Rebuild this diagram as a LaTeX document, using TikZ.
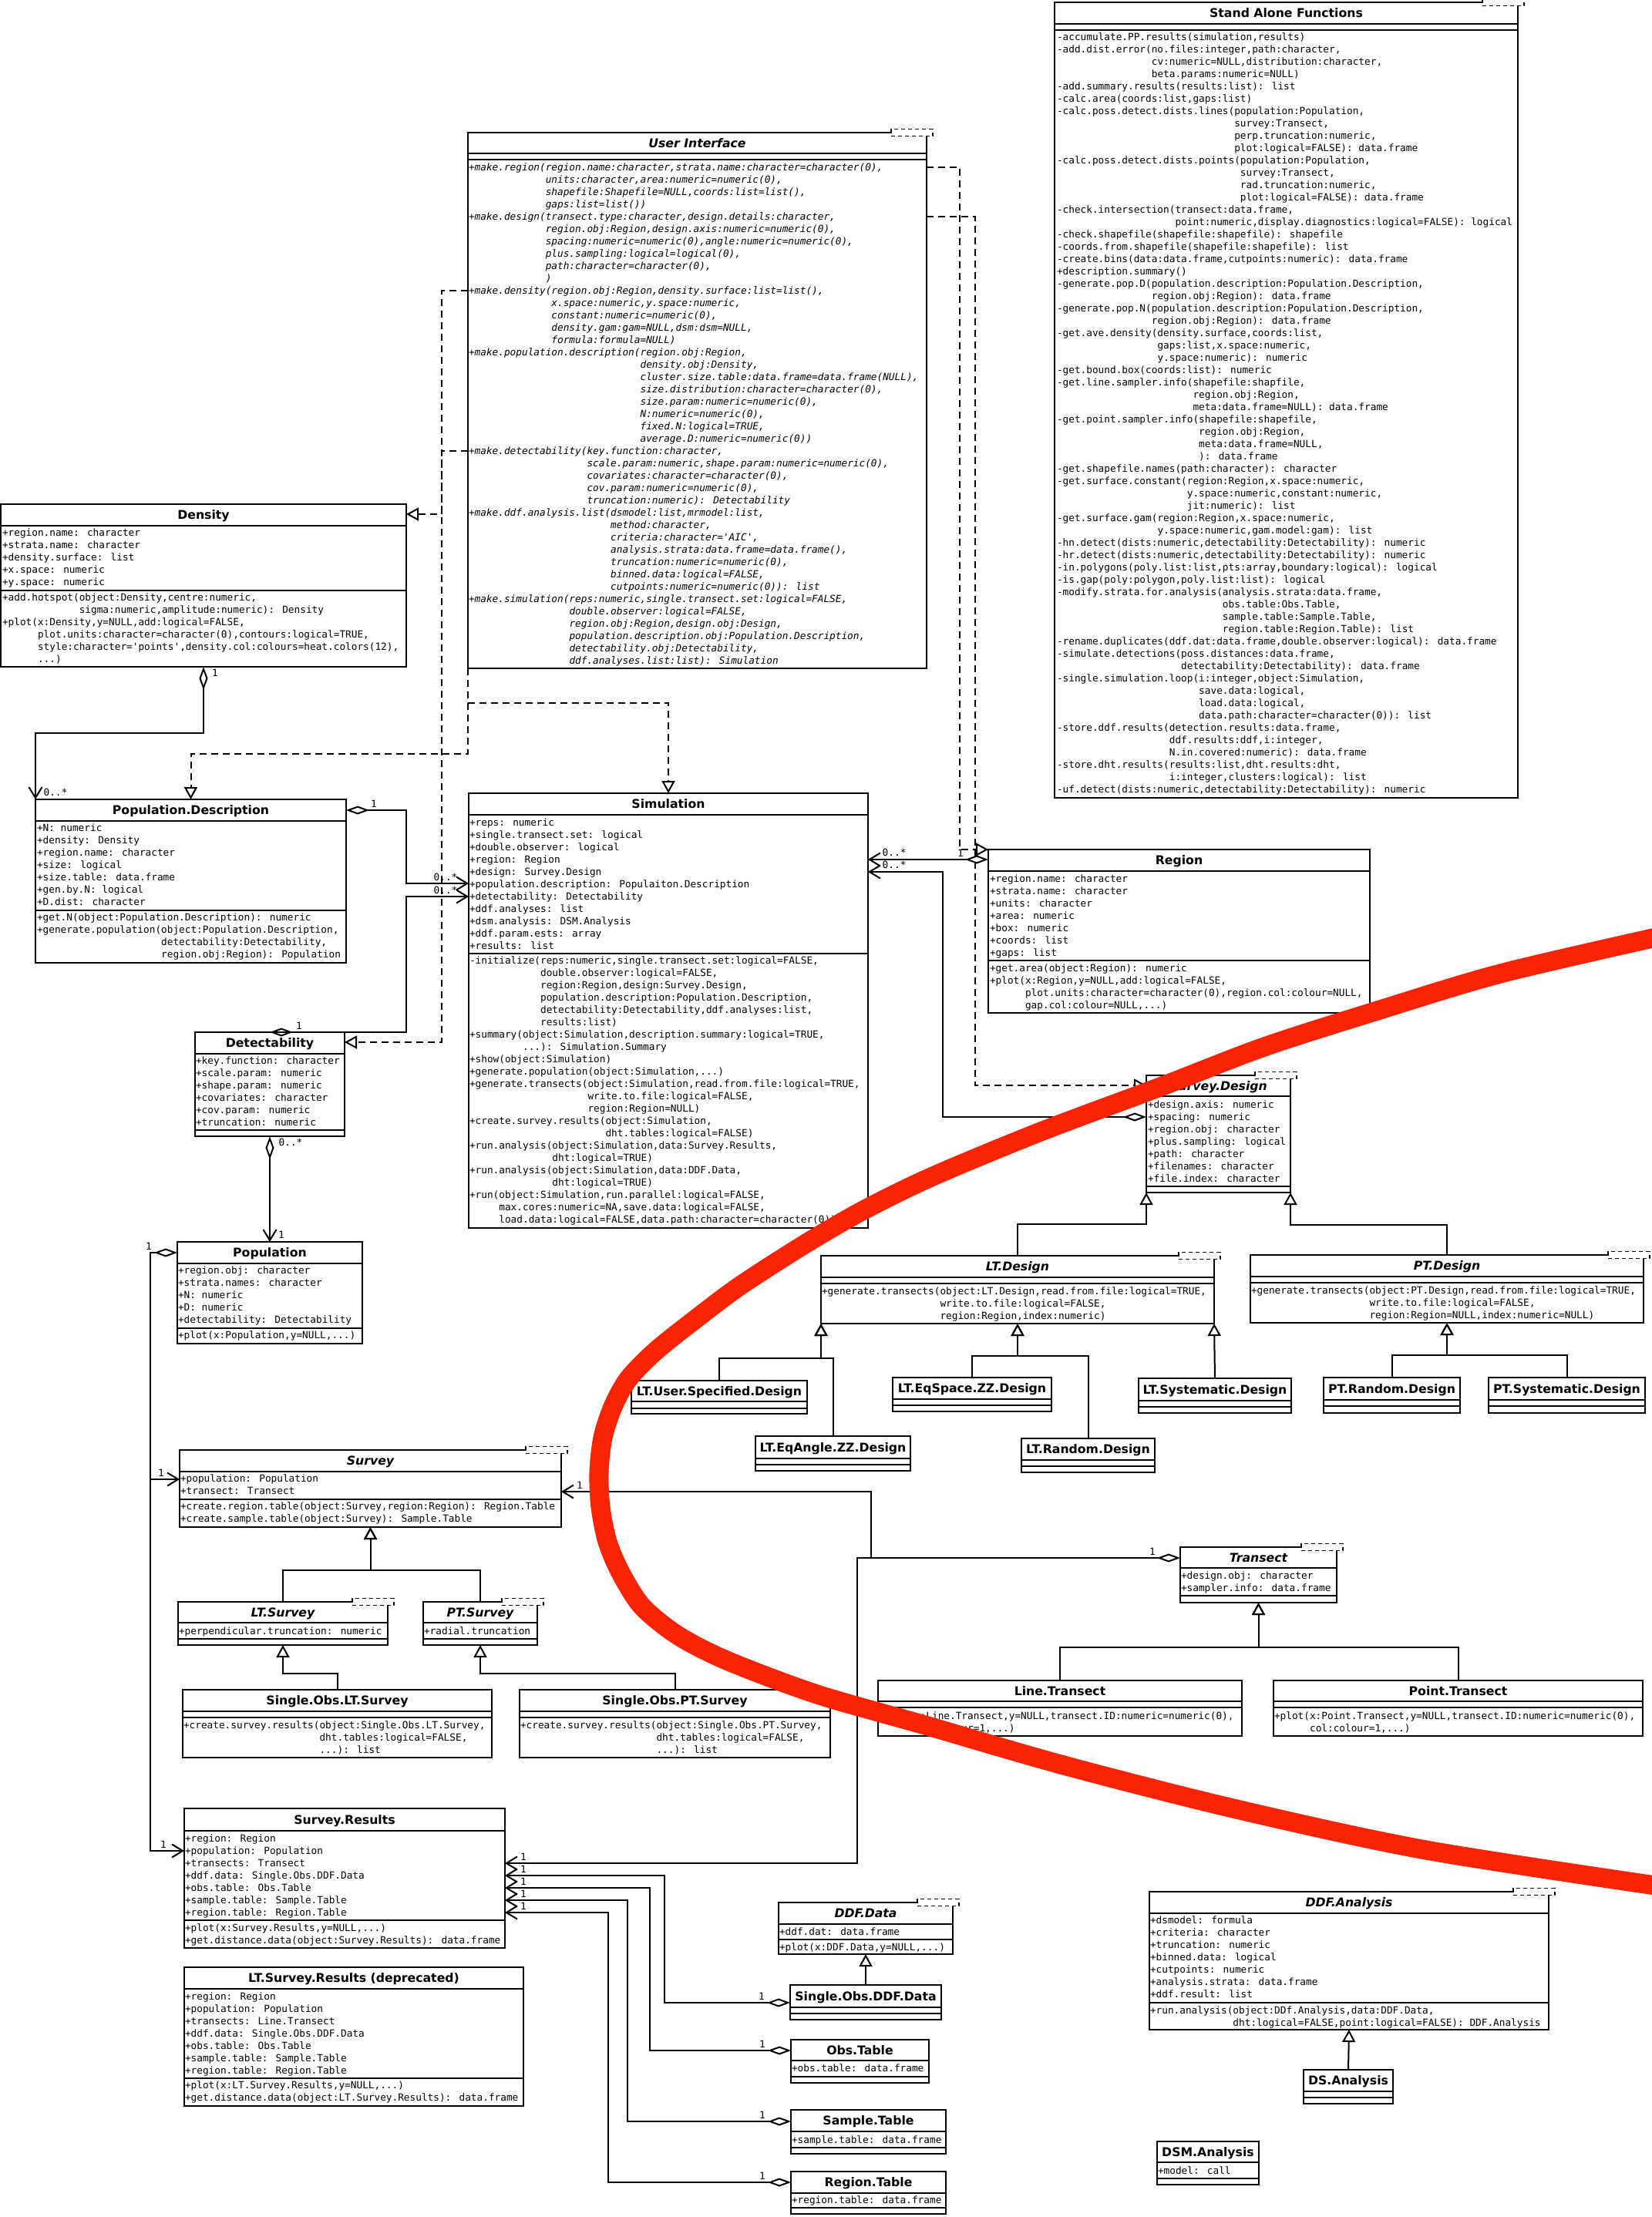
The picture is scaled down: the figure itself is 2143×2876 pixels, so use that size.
\documentclass[tikz,border=0pt]{standalone}
\usepackage{fontspec}
\usetikzlibrary{arrows.meta}
\newfontfamily\monof{DejaVu Sans Mono}[ItalicFont={DejaVu Sans Mono Oblique}]
\newfontfamily\sansf{DejaVu Sans}[BoldFont={DejaVu Sans Bold},BoldItalicFont={DejaVu Sans Bold Oblique}]
\newcommand\mfont{\monof\fontsize{12.75pt}{16pt}\selectfont}
\newcommand\tfont{\sansf\bfseries\fontsize{15.7pt}{18pt}\selectfont}
\newcommand\umlind[1]{\hspace*{#1\fontcharwd\font`0}}
\definecolor{redc}{RGB}{250,35,5}
\tikzset{
  umldia/.tip={Diamond[open,length=30pt,width=11pt]},
  umlbarb/.tip={Straight Barb[length=14pt,width=17pt]},
  umltri/.tip={Triangle[open,length=16pt,width=17pt]},
  clsbox/.style={draw,line width=2pt,inner sep=0pt,outer sep=0pt,rectangle,fill=white},
  sepl/.style={line width=2pt},
  ttlst/.style={anchor=base,inner sep=0pt,font=\tfont},
  tblk/.style={anchor=north west,inner sep=0pt,outer sep=0pt,align=left,font=\mfont},
  lbl/.style={inner sep=0pt,font=\mfont},
  tplst/.style={draw,line width=1.8pt,dash pattern=on 5pt off 4pt,fill=white,minimum width=54pt,minimum height=9pt,inner sep=0pt},
  agg/.style={line width=2pt,arrows={umldia-umlbarb}},
  assoc/.style={line width=2pt,arrows={-umlbarb}},
  real/.style={line width=2pt,dash pattern=on 9pt off 6pt,arrows={-umltri}},
  gen/.style={line width=2pt,arrows={-umltri}},
  redline/.style={line width=25pt,color=redc},
}
\newcommand\umlcls[8]{%
  \node[clsbox,minimum width={(#4-#2)*1pt},minimum height={(#5-#3)*1pt}] (#1) at ({(#2+#4)/2},{(#3+#5)/2}) {};
  \draw[sepl] (#1.west |- 0,#6) -- (#1.east |- 0,#6);
  \draw[sepl] (#1.west |- 0,#7) -- (#1.east |- 0,#7);
  \node[ttlst] (#1-t) at ({(#2+#4)/2},{(#3+#6)/2+5.5}) {#8};
}
\newcommand\umltxt[5][]{\node[tblk,#1] (#2) at (#3,{#4-8}) {\rule{0pt}{12pt}#5};}
\newcommand\umltpl[2]{\node[tplst] (#1) at ([xshift=-19pt]#2.north east) {};}
\begin{document}
\begin{tikzpicture}[x=1pt,y=-1pt]
\useasboundingbox (0,0) rectangle (2143,2876);
\fill[white] (0,0) rectangle (2143,2876);

% ---------------- Stand Alone Functions
\umlcls{sa}{1368}{3}{1969}{1035}{31}{39}{Stand Alone Functions}
\umltxt{sa-m}{1371}{48}{-accumulate.PP.results(simulation,results)\\
-add.dist.error(no.files:integer,path:character,\\
\umlind{16}cv:numeric=NULL,distribution:character,\\
\umlind{16}beta.params:numeric=NULL)\\
-add.summary.results(results:list): list\\
-calc.area(coords:list,gaps:list)\\
-calc.poss.detect.dists.lines(population:Population,\\
\umlind{30}survey:Transect,\\
\umlind{30}perp.truncation:numeric,\\
\umlind{30}plot:logical=FALSE): data.frame\\
-calc.poss.detect.dists.points(population:Population,\\
\umlind{31}survey:Transect,\\
\umlind{31}rad.truncation:numeric,\\
\umlind{31}plot:logical=FALSE): data.frame\\
-check.intersection(transect:data.frame,\\
\umlind{20}point:numeric,display.diagnostics:logical=FALSE): logical\\
-check.shapefile(shapefile:shapefile): shapefile\\
-coords.from.shapefile(shapefile:shapefile): list\\
-create.bins(data:data.frame,cutpoints:numeric): data.frame\\
+description.summary()\\
-generate.pop.D(population.description:Population.Description,\\
\umlind{16}region.obj:Region): data.frame\\
-generate.pop.N(population.description:Population.Description,\\
\umlind{16}region.obj:Region): data.frame\\
-get.ave.density(density.surface,coords:list,\\
\umlind{17}gaps:list,x.space:numeric,\\
\umlind{17}y.space:numeric): numeric\\
-get.bound.box(coords:list): numeric\\
-get.line.sampler.info(shapefile:shapfile,\\
\umlind{23}region.obj:Region,\\
\umlind{23}meta:data.frame=NULL): data.frame\\
-get.point.sampler.info(shapefile:shapefile,\\
\umlind{24}region.obj:Region,\\
\umlind{24}meta:data.frame=NULL,\\
\umlind{24}): data.frame\\
-get.shapefile.names(path:character): character\\
-get.surface.constant(region:Region,x.space:numeric,\\
\umlind{22}y.space:numeric,constant:numeric,\\
\umlind{22}jit:numeric): list\\
-get.surface.gam(region:Region,x.space:numeric,\\
\umlind{17}y.space:numeric,gam.model:gam): list\\
-hn.detect(dists:numeric,detectability:Detectability): numeric\\
-hr.detect(dists:numeric,detectability:Detectability): numeric\\
-in.polygons(poly.list:list,pts:array,boundary:logical): logical\\
-is.gap(poly:polygon,poly.list:list): logical\\
-modify.strata.for.analysis(analysis.strata:data.frame,\\
\umlind{28}obs.table:Obs.Table,\\
\umlind{28}sample.table:Sample.Table,\\
\umlind{28}region.table:Region.Table): list\\
-rename.duplicates(ddf.dat:data.frame,double.observer:logical): data.frame\\
-simulate.detections(poss.distances:data.frame,\\
\umlind{21}detectability:Detectability): data.frame\\
-single.simulation.loop(i:integer,object:Simulation,\\
\umlind{24}save.data:logical,\\
\umlind{24}load.data:logical,\\
\umlind{24}data.path:character=character(0)): list\\
-store.ddf.results(detection.results:data.frame,\\
\umlind{19}ddf.results:ddf,i:integer,\\
\umlind{19}N.in.covered:numeric): data.frame\\
-store.dht.results(results:list,dht.results:dht,\\
\umlind{19}i:integer,clusters:logical): list\\
-uf.detect(dists:numeric,detectability:Detectability): numeric}

% ---------------- User Interface
\umlcls{ui}{607}{172}{1202}{867}{199}{207}{\itshape User Interface}
\umltxt[font=\mfont\itshape]{ui-m}{608}{217}{+make.region(region.name:character,strata.name:character=character(0),\\
\umlind{13}units:character,area:numeric=numeric(0),\\
\umlind{13}shapefile:Shapefile=NULL,coords:list=list(),\\
\umlind{13}gaps:list=list())\\
+make.design(transect.type:character,design.details:character,\\
\umlind{13}region.obj:Region,design.axis:numeric=numeric(0),\\
\umlind{13}spacing:numeric=numeric(0),angle:numeric=numeric(0),\\
\umlind{13}plus.sampling:logical=logical(0),\\
\umlind{13}path:character=character(0),\\
\umlind{13})\\
+make.density(region.obj:Region,density.surface:list=list(),\\
\umlind{14}x.space:numeric,y.space:numeric,\\
\umlind{14}constant:numeric=numeric(0),\\
\umlind{14}density.gam:gam=NULL,dsm:dsm=NULL,\\
\umlind{14}formula:formula=NULL)\\
+make.population.description(region.obj:Region,\\
\umlind{29}density.obj:Density,\\
\umlind{29}cluster.size.table:data.frame=data.frame(NULL),\\
\umlind{29}size.distribution:character=character(0),\\
\umlind{29}size.param:numeric=numeric(0),\\
\umlind{29}N:numeric=numeric(0),\\
\umlind{29}fixed.N:logical=TRUE,\\
\umlind{29}average.D:numeric=numeric(0))\\
+make.detectability(key.function:character,\\
\umlind{20}scale.param:numeric,shape.param:numeric=numeric(0),\\
\umlind{20}covariates:character=character(0),\\
\umlind{20}cov.param:numeric=numeric(0),\\
\umlind{20}truncation:numeric): Detectability\\
+make.ddf.analysis.list(dsmodel:list,mrmodel:list,\\
\umlind{24}method:character,\\
\umlind{24}criteria:character=\textquotesingle AIC\textquotesingle,\\
\umlind{24}analysis.strata:data.frame=data.frame(),\\
\umlind{24}truncation:numeric=numeric(0),\\
\umlind{24}binned.data:logical=FALSE,\\
\umlind{24}cutpoints:numeric=numeric(0)): list\\
+make.simulation(reps:numeric,single.transect.set:logical=FALSE,\\
\umlind{17}double.observer:logical=FALSE,\\
\umlind{17}region.obj:Region,design.obj:Design,\\
\umlind{17}population.description.obj:Population.Description,\\
\umlind{17}detectability.obj:Detectability,\\
\umlind{17}ddf.analyses.list:list): Simulation}

% ---------------- Density
\umlcls{dens}{1}{654}{527}{865}{682}{766}{Density}
\umltxt{dens-a}{3}{691}{+region.name: character\\+strata.name: character\\+density.surface: list\\+x.space: numeric\\+y.space: numeric}
\umltxt{dens-m}{3}{775}{+add.hotspot(object:Density,centre:numeric,\\
\umlind{13}sigma:numeric,amplitude:numeric): Density\\
+plot(x:Density,y=NULL,add:logical=FALSE,\\
\umlind{6}plot.units:character=character(0),contours:logical=TRUE,\\
\umlind{6}style:character=\textquotesingle points\textquotesingle,density.col:colours=heat.colors(12),\\
\umlind{6}...)}

% ---------------- Population.Description
\umlcls{pd}{46}{1037}{449}{1249}{1065}{1181}{Population.Description}
\umltxt{pd-a}{48}{1074}{+N: numeric\\+density: Density\\+region.name: character\\+size: logical\\+size.table: data.frame\\+gen.by.N: logical\\+D.dist: character}
\umltxt{pd-m}{48}{1190}{+get.N(object:Population.Description): numeric\\
+generate.population(object:Population.Description,\\
\umlind{21}detectability:Detectability,\\
\umlind{21}region.obj:Region): Population}

% ---------------- Detectability
\umlcls{det}{253}{1339}{447}{1474}{1367}{1466}{Detectability}
\umltxt{det-a}{254}{1376}{+key.function: character\\+scale.param: numeric\\+shape.param: numeric\\+covariates: character\\+cov.param: numeric\\+truncation: numeric}

% ---------------- Simulation
\umlcls{sim}{608}{1029}{1126}{1593}{1057}{1237}{Simulation}
\umltxt{sim-a}{609}{1067}{+reps: numeric\\+single.transect.set: logical\\+double.observer: logical\\+region: Region\\+design: Survey.Design\\+population.description: Populaiton.Description\\+detectability: Detectability\\+ddf.analyses: list\\+dsm.analysis: DSM.Analysis\\+ddf.param.ests: array\\+results: list}
\umltxt{sim-m}{609}{1246}{-initialize(reps:numeric,single.transect.set:logical=FALSE,\\
\umlind{12}double.observer:logical=FALSE,\\
\umlind{12}region:Region,design:Survey.Design,\\
\umlind{12}population.description:Population.Description,\\
\umlind{12}detectability:Detectability,ddf.analyses:list,\\
\umlind{12}results:list)\\
+summary(object:Simulation,description.summary:logical=TRUE,\\
\umlind{9}...): Simulation.Summary\\
+show(object:Simulation)\\
+generate.population(object:Simulation,...)\\
+generate.transects(object:Simulation,read.from.file:logical=TRUE,\\
\umlind{20}write.to.file:logical=FALSE,\\
\umlind{20}region:Region=NULL)\\
+create.survey.results(object:Simulation,\\
\umlind{23}dht.tables:logical=FALSE)\\
+run.analysis(object:Simulation,data:Survey.Results,\\
\umlind{14}dht:logical=TRUE)\\
+run.analysis(object:Simulation,data:DDF.Data,\\
\umlind{14}dht:logical=TRUE)\\
+run(object:Simulation,run.parallel:logical=FALSE,\\
\umlind{5}max.cores:numeric=NA,save.data:logical=FALSE,\\
\umlind{5}load.data:logical=FALSE,data.path:character=character(0))}

% ---------------- Region
\umlcls{reg}{1282}{1102}{1777}{1314}{1130}{1246}{Region}
\umltxt{reg-a}{1284}{1140}{+region.name: character\\+strata.name: character\\+units: character\\+area: numeric\\+box: numeric\\+coords: list\\+gaps: list}
\umltxt{reg-m}{1284}{1256}{+get.area(object:Region): numeric\\
+plot(x:Region,y=NULL,add:logical=FALSE,\\
\umlind{6}plot.units:character=character(0),region.col:colour=NULL,\\
\umlind{6}gap.col:colour=NULL,...)}

% ---------------- Survey.Design and designs
\umlcls{sd}{1487}{1395}{1674}{1547}{1422}{1539}{\itshape Survey.Design}
\umltxt{sd-a}{1489}{1433}{+design.axis: numeric\\+spacing: numeric\\+region.obj: character\\+plus.sampling: logical\\+path: character\\+filenames: character\\+file.index: character}

\umlcls{ltd}{1065}{1629}{1575}{1717}{1657}{1665}{\itshape LT.Design}
\umltxt{ltd-m}{1066}{1675}{+generate.transects(object:LT.Design,read.from.file:logical=TRUE,\\
\umlind{20}write.to.file:logical=FALSE,\\
\umlind{20}region:Region,index:numeric)}
\umlcls{ptd}{1622}{1628}{2132}{1716}{1656}{1664}{\itshape PT.Design}
\umltxt{ptd-m}{1623}{1674}{+generate.transects(object:PT.Design,read.from.file:logical=TRUE,\\
\umlind{20}write.to.file:logical=FALSE,\\
\umlind{20}region:Region=NULL,index:numeric=NULL)}

\umlcls{lus}{819}{1791}{1047}{1834}{1818}{1827}{LT.User.Specified.Design}
\umlcls{lea}{980}{1863}{1181}{1908}{1892}{1900}{LT.EqAngle.ZZ.Design}
\umlcls{les}{1158}{1787}{1364}{1831}{1815}{1823}{LT.EqSpace.ZZ.Design}
\umlcls{lrd}{1325}{1866}{1498}{1910}{1894}{1902}{LT.Random.Design}
\umlcls{lsy}{1477}{1788}{1675}{1833}{1817}{1825}{LT.Systematic.Design}
\umlcls{prd}{1717}{1787}{1894}{1833}{1816}{1824}{PT.Random.Design}
\umlcls{psy}{1931}{1787}{2134}{1833}{1816}{1824}{PT.Systematic.Design}

% ---------------- Population
\umlcls{pop}{230}{1611}{470}{1743}{1639}{1723}{Population}
\umltxt{pop-a}{231}{1648}{+region.obj: character\\+strata.names: character\\+N: numeric\\+D: numeric\\+detectability: Detectability}
\umltxt{pop-m}{231}{1732}{+plot(x:Population,y=NULL,...)}

% ---------------- Survey family
\umlcls{survey}{233}{1881}{728}{1981}{1909}{1945}{\itshape Survey}
\umltxt{survey-a}{234}{1918}{+population: Population\\+transect: Transect}
\umltxt{survey-m}{234}{1954}{+create.region.table(object:Survey,region:Region): Region.Table\\+create.sample.table(object:Survey): Sample.Table}
\umlcls{lts}{231}{2078}{503}{2134}{2105}{2126}{\itshape LT.Survey}
\umltxt{lts-a}{232}{2116}{+perpendicular.truncation: numeric}
\umlcls{pts}{549}{2078}{697}{2134}{2105}{2126}{\itshape PT.Survey}
\umltxt{pts-a}{550}{2116}{+radial.truncation}
\umlcls{solt}{237}{2192}{638}{2280}{2220}{2228}{Single.Obs.LT.Survey}
\umltxt{solt-m}{238}{2238}{+create.survey.results(object:Single.Obs.LT.Survey,\\
\umlind{23}dht.tables:logical=FALSE,\\
\umlind{23}...): list}
\umlcls{sopt}{674}{2192}{1077}{2280}{2220}{2228}{Single.Obs.PT.Survey}
\umltxt{sopt-m}{675}{2238}{+create.survey.results(object:Single.Obs.PT.Survey,\\
\umlind{23}dht.tables:logical=FALSE,\\
\umlind{23}...): list}

% ---------------- Transect family
\umlcls{tr}{1531}{2007}{1734}{2079}{2034}{2070}{\itshape Transect}
\umltxt{tr-a}{1532}{2044}{+design.obj: character\\+sampler.info: data.frame}
\umlcls{lt}{1139}{2180}{1611}{2252}{2207}{2215}{Line.Transect}
\umltxt{lt-m}{1140}{2226}{+plot(x:Line.Transect,y=NULL,transect.ID:numeric=numeric(0),\\
\umlind{6}col:colour=1,...)}
\umlcls{ptr}{1652}{2180}{2131}{2252}{2207}{2215}{Point.Transect}
\umltxt{ptr-m}{1653}{2226}{+plot(x:Point.Transect,y=NULL,transect.ID:numeric=numeric(0),\\
\umlind{6}col:colour=1,...)}

% ---------------- Results
\umlcls{sr}{239}{2346}{655}{2527}{2375}{2491}{Survey.Results}
\umltxt{sr-a}{240}{2385}{+region: Region\\+population: Population\\+transects: Transect\\+ddf.data: Single.Obs.DDF.Data\\+obs.table: Obs.Table\\+sample.table: Sample.Table\\+region.table: Region.Table}
\umltxt{sr-m}{240}{2501}{+plot(x:Survey.Results,y=NULL,...)\\+get.distance.data(object:Survey.Results): data.frame}
\umlcls{ltsr}{239}{2552}{679}{2732}{2580}{2696}{LT.Survey.Results (deprecated)}
\umltxt{ltsr-a}{240}{2590}{+region: Region\\+population: Population\\+transects: Line.Transect\\+ddf.data: Single.Obs.DDF.Data\\+obs.table: Obs.Table\\+sample.table: Sample.Table\\+region.table: Region.Table}
\umltxt{ltsr-m}{240}{2705}{+plot(x:LT.Survey.Results,y=NULL,...)\\+get.distance.data(object:LT.Survey.Results): data.frame}

\umlcls{ddfd}{1010}{2468}{1236}{2535}{2496}{2516}{\itshape DDF.Data}
\umltxt{ddfd-a}{1011}{2506}{+ddf.dat: data.frame}
\umltxt{ddfd-m}{1011}{2526}{+plot(x:DDF.Data,y=NULL,...)}
\umlcls{sodd}{1025}{2575}{1221}{2620}{2604}{2612}{Single.Obs.DDF.Data}
\umlcls{obs}{1026}{2646}{1205}{2702}{2673}{2694}{Obs.Table}
\umltxt{obs-a}{1027}{2683}{+obs.table: data.frame}
\umlcls{samp}{1026}{2737}{1227}{2794}{2765}{2786}{Sample.Table}
\umltxt{samp-a}{1027}{2776}{+sample.table: data.frame}
\umlcls{regt}{1026}{2817}{1227}{2872}{2845}{2864}{Region.Table}
\umltxt{regt-a}{1027}{2854}{+region.table: data.frame}

% ---------------- Analyses
\umlcls{ddfa}{1491}{2454}{2009}{2633}{2482}{2598}{\itshape DDF.Analysis}
\umltxt{ddfa-a}{1492}{2491}{+dsmodel: formula\\+criteria: character\\+truncation: numeric\\+binned.data: logical\\+cutpoints: numeric\\+analysis.strata: data.frame\\+ddf.result: list}
\umltxt{ddfa-m}{1492}{2608}{+run.analysis(object:DDf.Analysis,data:DDF.Data,\\
\umlind{14}dht:logical=FALSE,point:logical=FALSE): DDF.Analysis}
\umlcls{dsa}{1691}{2685}{1807}{2729}{2713}{2721}{DS.Analysis}
\umlcls{dsm}{1501}{2778}{1633}{2834}{2805}{2826}{DSM.Analysis}
\umltxt{dsm-a}{1502}{2816}{+model: call}

% ================= connectors
\coordinate (popbus) at (195,1919);
\coordinate (trj) at (1130,2021);

\draw[agg] (dens.south) -- ++(0,86) -| (pd.north west);
\draw[agg] (pd.east |- 0,1051) -- (527,1051) -- (527,1146) -- (sim.west |- 0,1146);
\draw[agg] (det.north) -- (527,1339) -- (527,1163) -- (sim.west |- 0,1163);
\draw[agg] (det.south) -- (pop.north);
\draw[agg] (pop.west |- 0,1625) -| (popbus) -- (survey.west |- 0,1919);
\draw[assoc] (popbus) -- (195,2401) -- (sr.west |- 0,2401);
\draw[agg] (reg.west |- 0,1115) -- (sim.east |- 0,1115);
\draw[agg] (sd.west |- 0,1449) -- (1223,1449) -- (1223,1131) -- (sim.east |- 0,1131);

\draw[real] (ui.east |- 0,217) -- (1245,217) -- (1245,1102) -- (reg.north west);
\draw[real] (ui.east |- 0,281) -- (1265,281) -- (1265,1408) -- (sd.west |- 0,1408);
\draw[real] (ui.west |- 0,377) -- (573,377) -- (573,667) -- (dens.east |- 0,667);
\draw[real] (ui.west |- 0,585) -- (573,585) -- (573,1352) -- (det.east |- 0,1352);
\draw[real] (ui.south west) -- (ui.south west |- 0,978) -- (pd.north |- 0,978) -- (pd.north);
\draw[real] (ui.south west) -- (ui.south west |- 0,912) -- (sim.north |- 0,912) -- (sim.north);

\draw[gen] (ltd.north) -- ++(0,-41) -| (sd.south west);
\draw[gen] (ptd.north) -- ++(0,-39) -| (sd.south east);
\draw[gen] (lus.north) -- ++(0,-29) -| (ltd.south west);
\draw[gen] (lea.north) -- ++(0,-101) -| (ltd.south west);
\draw[gen] (les.north) -- ++(0,-28) -| (ltd.south);
\draw[gen] (lrd.north) -- ++(0,-107) -| (ltd.south);
\draw[gen] (lsy.north) -- (ltd.south east);
\draw[gen] (prd.north) -- ++(0,-29) -| (ptd.south);
\draw[gen] (psy.north) -- ++(0,-29) -| (ptd.south);
\draw[gen] (lts.north) -- ++(0,-41) -| (survey.south);
\draw[gen] (pts.north) -- ++(0,-41) -| (survey.south);
\draw[gen] (solt.north) -- ++(0,-21) -| (lts.south);
\draw[gen] (sopt.north) -- ++(0,-21) -| (pts.south);
\draw[gen] (lt.north) -- ++(0,-43) -| (tr.south);
\draw[gen] (ptr.north) -- ++(0,-43) -| (tr.south);
\draw[gen] (sodd.north) -- (ddfd.south);
\draw[gen] (dsa.north) -- (ddfa.south);

\draw[agg] (tr.west |- 0,2021) -- (trj) |- (survey.east |- 0,1935);
\draw[assoc] (trj) -- (1112,2021) |- (sr.east |- 0,2417);
\draw[agg] (sodd.west |- 0,2598) -- (862,2598) -- (862,2433) -- (sr.east |- 0,2433);
\draw[agg] (obs.west |- 0,2660) -- (843,2660) -- (843,2449) -- (sr.east |- 0,2449);
\draw[agg] (samp.west |- 0,2752) -- (814,2752) -- (814,2465) -- (sr.east |- 0,2465);
\draw[agg] (regt.west |- 0,2831) -- (789,2831) -- (789,2481) -- (sr.east |- 0,2481);

% ================= labels
\node[lbl] (l01) at (279,873) {1};
\node[lbl] (l02) at (72,1028) {0..*};
\node[lbl] (l03) at (485,1043) {1};
\node[lbl] (l04) at (578,1138) {0..*};
\node[lbl] (l05) at (388,1331) {1};
\node[lbl] (l06) at (578,1155) {0..*};
\node[lbl] (l07) at (377,1482) {0..*};
\node[lbl] (l08) at (365,1602) {1};
\node[lbl] (l09) at (193,1617) {1};
\node[lbl] (l10) at (209,1911) {1};
\node[lbl] (l11) at (212,2393) {1};
\node[lbl] (l12) at (1246,1107) {1};
\node[lbl] (l13) at (1160,1106) {0..*};
\node[lbl] (l14) at (1160,1122) {0..*};
\node[lbl] (l15) at (752,1927) {1};
\node[lbl] (l16) at (1495,2013) {1};
\node[lbl] (l17) at (679,2409) {1};
\node[lbl] (l18) at (679,2425) {1};
\node[lbl] (l19) at (679,2441) {1};
\node[lbl] (l20) at (679,2457) {1};
\node[lbl] (l21) at (679,2473) {1};
\node[lbl] (l22) at (988,2590) {1};
\node[lbl] (l23) at (989,2652) {1};
\node[lbl] (l24) at (989,2744) {1};
\node[lbl] (l25) at (989,2823) {1};

% ================= template boxes
\umltpl{sa-tp}{sa}
\umltpl{ui-tp}{ui}
\umltpl{sd-tp}{sd}
\umltpl{ltd-tp}{ltd}
\umltpl{ptd-tp}{ptd}
\umltpl{survey-tp}{survey}
\umltpl{lts-tp}{lts}
\umltpl{pts-tp}{pts}
\umltpl{tr-tp}{tr}
\umltpl{ddfd-tp}{ddfd}
\umltpl{ddfa-tp}{ddfa}

% ================= red overlay curve
\draw[redline] plot[smooth,tension=0.5] coordinates {(2175,1210) (1950,1262) (1790,1310) (1640,1358) (1505,1410) (1350,1468) (1210,1526) (1120,1570) (1044,1614) (960,1668) (900,1713) (850,1753) (815,1789) (795,1825) (782,1865) (777,1910) (779,1955) (788,2000) (805,2040) (833,2084) (880,2122) (945,2155) (1060,2198) (1200,2238) (1380,2290) (1600,2346) (1850,2400) (2175,2450)};
\end{tikzpicture}
\end{document}
